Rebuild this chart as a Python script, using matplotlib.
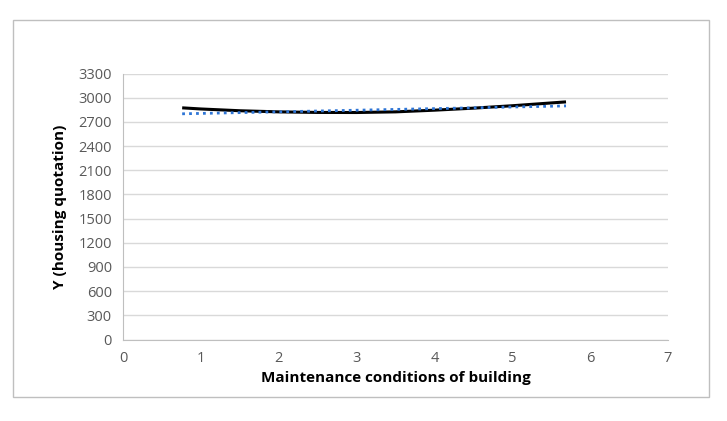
import matplotlib.pyplot as plt
from matplotlib.patches import Rectangle

# values
x_curve = [0.76, 1.0, 1.5, 2.0, 2.5, 3.0, 3.5, 4.0, 4.5, 5.0, 5.69]
y_curve = [2874, 2860, 2838, 2824, 2817, 2816, 2824, 2845, 2870, 2900, 2948]
x_trend = [0.76, 5.69]
y_trend = [2800, 2898]
x_ticks = [0, 1, 2, 3, 4, 5, 6, 7]
y_ticks = [0, 300, 600, 900, 1200, 1500, 1800, 2100, 2400, 2700, 3000, 3300]

plt.rcParams['font.family'] = ['Open Sans', 'DejaVu Sans']

fig = plt.figure(figsize=(7.27, 4.21), dpi=100)
ax = fig.add_axes([123 / 727, 1 - 339.5 / 421, 545 / 727, 266 / 421])

# outer chart border
fig.patches.append(Rectangle((13 / 727, 1 - 397 / 421), 696 / 727, 377 / 421,
                             transform=fig.transFigure, fill=False,
                             edgecolor='#bfbfbf', linewidth=1))

ax.plot(x_curve, y_curve, color='black', linewidth=2.2, solid_capstyle='butt')
ax.plot(x_trend, y_trend, color='#2e75d6', linewidth=2, linestyle=(0, (1, 1.5)))

ax.set_xlim(0, 7)
ax.set_ylim(0, 3300)
ax.set_xticks(x_ticks)
ax.set_yticks(y_ticks)
ax.grid(axis='y', color='#d9d9d9', linewidth=1)
ax.set_axisbelow(True)

for s in ['top', 'right']:
    ax.spines[s].set_visible(False)
for s in ['left', 'bottom']:
    ax.spines[s].set_color('#bfbfbf')
ax.tick_params(length=0, colors='#595959', labelsize=10.5, pad=8)

ax.set_xlabel('Maintenance conditions of building', fontsize=11, fontweight='bold', labelpad=4)
ax.set_ylabel('Y (housing quotation)', fontsize=11, fontweight='bold', labelpad=8)

fig.savefig('out.png', dpi=100)
